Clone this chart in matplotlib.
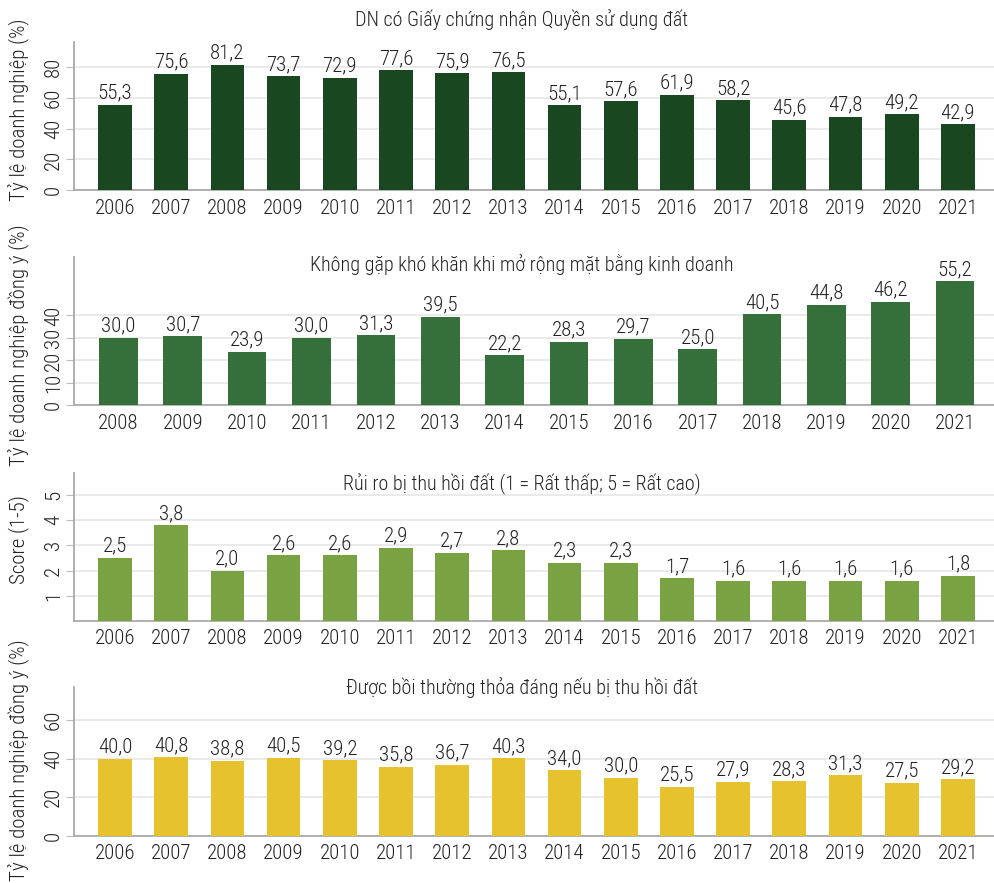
import matplotlib
matplotlib.use("Agg")
import matplotlib.pyplot as plt
from matplotlib import font_manager
from matplotlib.font_manager import FontProperties

# Prefer a condensed/narrow light or regular face if one is installed
cond = None
prefs = ["RobotoCondensed-Light.", "RobotoCondensed-Regular", "LiberationSansNarrow-Regular",
         "DejaVuSansCondensed.ttf", "OpenSans_Condensed-Regular", "OpenSansCondensed"]
files = [f.fname for f in font_manager.fontManager.ttflist]
for p in prefs:
    for fn in files:
        if p.lower() in fn.lower().replace(" ", ""):
            cond = fn
            break
    if cond:
        break

if cond:
    def fp(size):
        return FontProperties(fname=cond, size=size)
else:
    plt.rcParams['font.family'] = ["Roboto", "DejaVu Sans"]
    def fp(size):
        return FontProperties(family=["Roboto", "DejaVu Sans"], size=size)

years_a = [str(y) for y in range(2006, 2022)]
years_b = [str(y) for y in range(2008, 2022)]

gcn = [55.3, 75.6, 81.2, 73.7, 72.9, 77.6, 75.9, 76.5, 55.1, 57.6, 61.9, 58.2, 45.6, 47.8, 49.2, 42.9]
mat_bang = [30.0, 30.7, 23.9, 30.0, 31.3, 39.5, 22.2, 28.3, 29.7, 25.0, 40.5, 44.8, 46.2, 55.2]
rui_ro = [2.5, 3.8, 2.0, 2.6, 2.6, 2.9, 2.7, 2.8, 2.3, 2.3, 1.7, 1.6, 1.6, 1.6, 1.6, 1.8]
boi_thuong = [40.0, 40.8, 38.8, 40.5, 39.2, 35.8, 36.7, 40.3, 34.0, 30.0, 25.5, 27.9, 28.3, 31.3, 27.5, 29.2]

titles = ["DN có Giấy chứng nhận Quyền sử dụng đất",
          "Không gặp khó khăn khi mở rộng mặt bằng kinh doanh",
          "Rủi ro bị thu hồi đất (1 = Rất thấp; 5 = Rất cao)",
          "Được bồi thường thỏa đáng nếu bị thu hồi đất"]
ylabels = ["Tỷ lệ doanh nghiệp (%)", "Tỷ lệ doanh nghiệp đồng ý (%)",
           "Score (1-5)", "Tỷ lệ doanh nghiệp đồng ý (%)"]
colors = ["#19471f", "#35703a", "#79a243", "#e6c22f"]
yticks = [[0, 20, 40, 60, 80], [0, 10, 20, 30, 40], [1, 2, 3, 4, 5], [0, 20, 40, 60]]
ylims = [96, 66, 5.87, 77]

W, H = 995, 883
fig = plt.figure(figsize=(W / 100, H / 100), dpi=100)

panels = [(years_a, gcn), (years_b, mat_bang), (years_a, rui_ro), (years_a, boi_thuong)]
tops = [42, 257, 472.7, 687.3]
title_y = [20, 265, 484, 688]
ylab_y = [110, 345, 540, 760]
ah = 148.4
left, right = 74, 995
txtc = "#222222"
big = 15 if cond else 13.5
tsize = 14.5 if cond else 12.5

for i, ((cats, vals), top) in enumerate(zip(panels, tops)):
    ax = fig.add_axes([left / W, 1 - (top + ah) / H, (right - left) / W, ah / H])
    x = list(range(len(cats)))
    bars = ax.bar(x, vals, width=0.6, color=colors[i], zorder=3)
    n = len(cats)
    if n == 16:
        ax.set_xlim(-0.73, n - 1 + 0.66)
    else:
        ax.set_xlim(-0.69, n - 1 + 0.62)
    ax.set_ylim(0, ylims[i])
    ax.set_yticks(yticks[i])
    ax.set_xticks(x)
    ax.set_xticklabels(cats, color=txtc)
    for lab in ax.get_xticklabels():
        lab.set_fontproperties(fp(big))
    for lab in ax.get_yticklabels():
        lab.set_rotation(90)
        lab.set_va("center")
        lab.set_fontproperties(fp(big))
        lab.set_color(txtc)
    ax.tick_params(axis="x", length=0, pad=6)
    ax.tick_params(axis="y", length=6, color="#bbbbbb", pad=2)
    ax.grid(axis="y", color="#e6e6e6", linewidth=1.2, zorder=0)
    for s in ["top", "right"]:
        ax.spines[s].set_visible(False)
    for s in ["left", "bottom"]:
        ax.spines[s].set_color("#aaaaaa")
        ax.spines[s].set_linewidth(1.3)
    for b, v in zip(bars, vals):
        ax.annotate(f"{v:.1f}".replace(".", ","), (b.get_x() + b.get_width() / 2, v),
                    xytext=(0, 1.5), textcoords="offset points", ha="center", va="bottom",
                    fontproperties=fp(big), color=txtc, zorder=4)
    fig.text(522 / W, 1 - title_y[i] / H, titles[i], ha="center", va="center",
             fontproperties=fp(tsize), color=txtc)
    fig.text(19 / W, 1 - ylab_y[i] / H, ylabels[i], rotation=90, ha="center", va="center",
             fontproperties=fp(big), color=txtc)

fig.savefig("out.png", dpi=100, facecolor="white")
